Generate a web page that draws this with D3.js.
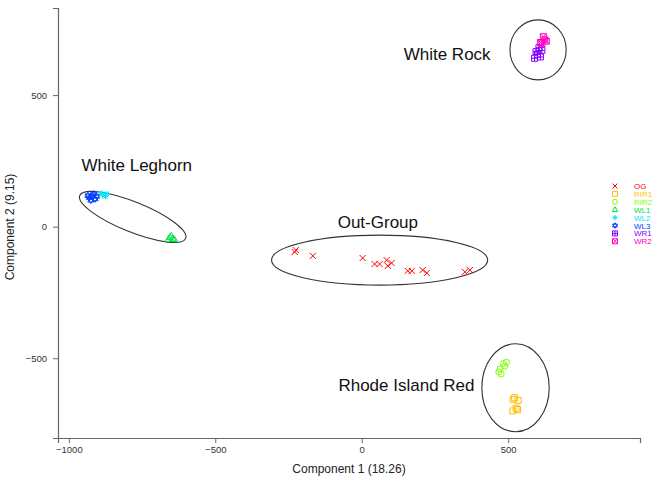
<!DOCTYPE html>
<meta charset="utf-8">
<body style="margin:0;background:#fff">
<svg id="chart"></svg>
<script src="https://d3js.org/d3.v7.min.js"></script>
<script>
// groups in the legend order
var groups = ["OG", "RIR1", "RIR2", "WL1", "WL2", "WL3", "WR1", "WR2"];
var groupColors = ["#FF0000", "#FFBF00", "#80FF00", "#00E040", "#00E5FF", "#0040FF", "#8000FF", "#FF00BF"];
var groupSymbols = ["cross", "square", "circle", "triangle", "asterisk", "david", "squarePlus", "squareX"];

// PCA scores, [component1, component2]
var OG = [[-229, -96], [-225, -89], [-167, -111], [3, -119], [44, -142], [61, -142], [85, -127],
	[89, -149], [102, -138], [157, -168], [171, -168], [208, -165], [222, -176], [352, -172], [369, -165]];
var RIR1 = [[522, -650], [534, -660], [517, -656], [527, -690], [516, -700], [532, -695]];
var RIR2 = [[484, -520], [472, -540], [489, -530], [476, -560], [494, -515], [468, -552]];
var WL1 = [[-655, -40], [-645, -45], [-650, -34], [-640, -48], [-660, -48]];
var WL2 = [[-885, 120], [-875, 115], [-890, 128], [-870, 125]];
var WL3 = [[-930, 110], [-920, 118], [-910, 105], [-925, 100], [-905, 115], [-915, 125], [-935, 118]];
var WR1 = [[590, 640], [600, 655], [610, 645], [595, 665], [615, 670], [605, 680]];
var WR2 = [[615, 695], [625, 710], [620, 722], [630, 705], [610, 700]];
var seriesData = [OG, RIR1, RIR2, WL1, WL2, WL3, WR1, WR2];

// breed annotations: label, label position, ellipse centre / radii (data units) / angle
var breeds = ["White Rock", "White Leghorn", "Out-Group", "Rhode Island Red"];
var breedLabelPos = [[440, 635], [-768, 212], [55, -5], [385, -625]];
var breedAnchor = ["end", "middle", "middle", "end"];
var ellipseCenters = [[602, 672], [-782, 37], [61, -127], [525, -612]];
var ellipseRadii = [[96, 114], [195, 57], [369, 95], [115, 167]];
var ellipseAngles = [0, 22, 0, 0];

var xTicks = [-1000, -500, 0, 500];
var yTicks = [-500, 0, 500];

var width = 672, height = 482;
var svg = d3.select("#chart").attr("width", width).attr("height", height)
	.style("font-family", "'Liberation Sans', Arial, sans-serif");

var x = d3.scaleLinear().domain([-1037, 950]).range([58, 640]);
var y = d3.scaleLinear().domain([-803, 831]).range([438, 8]);

// axes, L shaped like base R with bty="l"
var xAxis = svg.append("g").attr("transform", "translate(0," + y.range()[0] + ")")
	.call(d3.axisBottom(x).tickValues(xTicks).tickSize(5).tickPadding(3).tickFormat(d3.format("d")));
var yAxis = svg.append("g").attr("transform", "translate(" + x.range()[0] + ",0)")
	.call(d3.axisLeft(y).tickValues(yTicks).tickSize(5).tickPadding(6).tickFormat(d3.format("d")));
[xAxis, yAxis].forEach(function(a){
	a.select(".domain").attr("stroke", "#666").attr("stroke-width", 1.2);
	a.selectAll(".tick line").attr("stroke", "#666");
	a.selectAll(".tick text").attr("fill", "#333").style("font-size", "9.5px");
});

svg.append("text").attr("x", 349).attr("y", 473).attr("text-anchor", "middle")
	.style("font-size", "12px").attr("fill", "#222").text("Component 1 (18.26)");
svg.append("text").attr("transform", "translate(14,227) rotate(-90)").attr("text-anchor", "middle")
	.style("font-size", "12px").attr("fill", "#222").text("Component 2 (9.15)");

// ellipses
var ell = svg.append("g").attr("class", "ellipses");
breeds.forEach(function(b, i){
	var c = ellipseCenters[i], r = ellipseRadii[i];
	var cx = x(c[0]), cy = y(c[1]);
	var rx = x(c[0] + r[0]) - cx, ry = cy - y(c[1] + r[1]);
	ell.append("ellipse").attr("cx", cx).attr("cy", cy).attr("rx", rx).attr("ry", ry)
		.attr("transform", "rotate(" + ellipseAngles[i] + "," + cx + "," + cy + ")")
		.attr("fill", "none").attr("stroke", "#333").attr("stroke-width", 1.1);
	svg.append("text").attr("x", x(breedLabelPos[i][0])).attr("y", y(breedLabelPos[i][1]))
		.attr("text-anchor", breedAnchor[i]).style("font-size", "17px").attr("fill", "#111").text(b);
});

// symbol shapes roughly like R pch glyphs
function symbolPath(type, s){
	var h = s / 2;
	switch(type){
		case "cross": return "M" + -h + "," + -h + "L" + h + "," + h + "M" + -h + "," + h + "L" + h + "," + -h;
		case "square": return "M" + -h + "," + -h + "H" + h + "V" + h + "H" + -h + "Z";
		case "circle": return "M" + -h + ",0A" + h + "," + h + " 0 1,0 " + h + ",0A" + h + "," + h + " 0 1,0 " + -h + ",0";
		case "triangle": return "M0," + -h * 1.15 + "L" + h * 1.1 + "," + h * 0.75 + "H" + -h * 1.1 + "Z";
		case "asterisk": return "M" + -h + ",0H" + h + "M0," + -h + "V" + h +
			"M" + -h * 0.75 + "," + -h * 0.75 + "L" + h * 0.75 + "," + h * 0.75 + "M" + -h * 0.75 + "," + h * 0.75 + "L" + h * 0.75 + "," + -h * 0.75;
		case "david": return "M0," + -h * 1.1 + "L" + h + "," + h * 0.55 + "H" + -h + "Z" +
			"M0," + h * 1.1 + "L" + h + "," + -h * 0.55 + "H" + -h + "Z";
		case "squarePlus": return "M" + -h + "," + -h + "H" + h + "V" + h + "H" + -h + "Z" +
			"M" + -h + ",0H" + h + "M0," + -h + "V" + h;
		case "squareX": return "M" + -h + "," + -h + "H" + h + "V" + h + "H" + -h + "Z" +
			"M" + -h + "," + -h + "L" + h + "," + h + "M" + -h + "," + h + "L" + h + "," + -h;
	}
}

var pts = svg.append("g").attr("class", "points");
seriesData.forEach(function(series, i){
	pts.selectAll(".p" + i).data(series).enter().append("path")
		.attr("class", "p" + i)
		.attr("transform", function(d){ return "translate(" + x(d[0]) + "," + y(d[1]) + ")"; })
		.attr("d", symbolPath(groupSymbols[i], 6))
		.attr("fill", "none").attr("stroke", groupColors[i]).attr("stroke-width", 1);
});

// legend
var legend = svg.append("g").attr("transform", "translate(615,186)");
groups.forEach(function(g, i){
	var row = legend.append("g").attr("transform", "translate(0," + i * 7.9 + ")");
	row.append("path").attr("d", symbolPath(groupSymbols[i], 5))
		.attr("fill", "none").attr("stroke", groupColors[i]).attr("stroke-width", 1);
	row.append("text").attr("x", 19).attr("y", 3).style("font-size", "8px")
		.attr("fill", groupColors[i]).text(g);
});
</script>
</body>
